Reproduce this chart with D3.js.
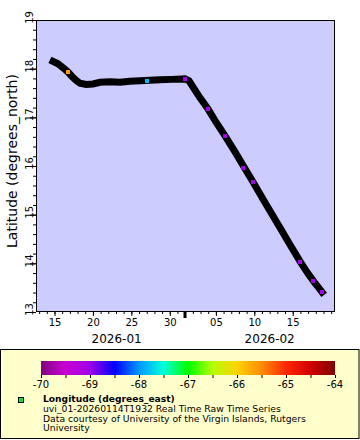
<!DOCTYPE html>
<html><head><meta charset="utf-8">
<script src="https://cdn.jsdelivr.net/npm/d3@7"></script>
<style>body{margin:0;background:#fff}svg{display:block;font-family:"DejaVu Sans",sans-serif}</style>
</head><body><svg id="c" width="360" height="440"></svg>
<script>
// ---- data ----
const trackTimes = ["2026-01-14T19:32","2026-01-15T11:00","2026-01-16T02:30","2026-01-16T18:10","2026-01-17T06:40",
  "2026-01-17T19:10","2026-01-18T07:40","2026-01-19T02:25","2026-01-20T00:15","2026-01-20T22:05",
  "2026-01-22T05:20","2026-01-23T12:30","2026-01-24T19:50","2026-01-26T03:00","2026-01-27T10:20",
  "2026-01-28T17:30","2026-01-30T07:00","2026-01-31T23:35","2026-02-01T12:00","2026-02-02T22:20",
  "2026-02-03T23:30","2026-02-05T00:30","2026-02-06T04:35","2026-02-07T11:45","2026-02-08T15:50",
  "2026-02-09T20:00","2026-02-11T09:20","2026-02-13T08:20","2026-02-14T15:35","2026-02-15T22:50",
  "2026-02-16T23:45","2026-02-17T18:30","2026-02-18T10:05","2026-02-18T19:25"];
const trackLats = [18.15,18.10,18.02,17.93,17.84,17.76,17.70,17.675,17.685,17.72,
  17.73,17.72,17.74,17.75,17.76,17.77,17.78,17.79,17.75,17.40,
  17.17,16.90,16.62,16.29,15.98,15.67,15.25,14.73,14.38,14.04,
  13.79,13.62,13.49,13.41];
const markerTimes = ["2026-01-16T17:15","2026-01-27T01:00","2026-01-31T23:35","2026-02-03T23:30","2026-02-06T04:35",
  "2026-02-08T13:40","2026-02-09T20:00","2026-02-15T22:50","2026-02-17T15:20","2026-02-18T19:25"];
const markerLats = [17.93,17.75,17.79,17.18,16.62,15.96,15.68,14.03,13.64,13.42];
const markerLons = [-65.58,-67.85,-69.05,-69.05,-69.05,-69.05,-69.05,-69.05,-69.05,-69.05];
const latTicks = [13,14,15,16,17,18,19];
const dayTicks = ["2026-01-15","2026-01-20","2026-01-25","2026-01-30","2026-02-05","2026-02-10","2026-02-15"];
const monthStarts = ["2026-02-01"];
const monthLabels = ["2026-01","2026-02"];
const monthLabelTimes = ["2026-01-23T02:00","2026-02-12T00:00"];
const colorTicks = [-70,-69,-68,-67,-66,-65,-64];
const paletteStops = [-70,-69.5,-69,-68.5,-68,-67.5,-67,-66.5,-66,-65.5,-65,-64.5,-64];
const paletteColors = ["#800080","#c800d2","#a000e6","#0000ff","#0096ff","#00ffdc","#00ff00",
  "#b4ff00","#ffd200","#ff8c00","#ff2800","#d20000","#800000"];
const legendTitle = "Longitude (degrees_east)";
const legendLines = ["uvi_01-20260114T1932 Real Time Raw Time Series",
  "Data courtesy of University of the Virgin Islands, Rutgers","University"];
const yTitle = "Latitude (degrees_north)";

// ---- layout ----
const svg = d3.select("#c");
const L = 36, R = 335, T = 20, B = 312;
const P = s => new Date(s + (s.length > 10 ? ":00Z" : "T00:00:00Z"));
const x = d3.scaleUtc().domain([P("2026-01-12T14:12"), P("2026-02-20T12:00")]).range([L, R]);
const y = d3.scaleLinear().domain([13, 19]).range([B, T]);
const color = d3.scaleLinear().domain(paletteStops).range(paletteColors).clamp(true);

svg.append("rect").attr("x", L).attr("y", T).attr("width", R - L).attr("height", B - T).attr("fill", "#ccccff");

// track
const line = d3.line().x((d, i) => x(P(trackTimes[i]))).y((d, i) => y(trackLats[i]));
svg.append("path").attr("d", line(trackLats)).attr("fill", "none").attr("stroke", "#000")
  .attr("stroke-width", 7).attr("stroke-linecap", "square").attr("stroke-linejoin", "miter");
// colored markers
svg.append("g").selectAll("rect").data(markerLats).join("rect")
  .attr("x", (d, i) => Math.round(x(P(markerTimes[i]))) - 2)
  .attr("y", d => Math.round(y(d)) - 2)
  .attr("width", 4).attr("height", 4)
  .attr("fill", (d, i) => color(markerLons[i]));

// frame
svg.append("rect").attr("x", L + 0.5).attr("y", T + 0.5).attr("width", R - L - 1).attr("height", B - T - 1)
  .attr("fill", "none").attr("stroke", "#000").attr("stroke-width", 1);

// x axis minor ticks (daily)
const gxm = svg.append("g").attr("transform", `translate(0,${B})`)
  .call(d3.axisBottom(x).ticks(d3.utcDay.every(1)).tickSize(2).tickFormat(""));
gxm.select(".domain").remove();
const gx = svg.append("g").attr("transform", `translate(0,${B})`)
  .call(d3.axisBottom(x).tickValues(dayTicks.map(P)).tickSize(4).tickPadding(3).tickFormat(d3.utcFormat("%d")));
gx.select(".domain").remove();
gx.selectAll("text").attr("font-size", 10).attr("font-family", "DejaVu Sans").attr("fill", "#000");
svg.append("g").selectAll("rect").data(monthStarts).join("rect")
  .attr("x", d => Math.round(x(P(d))) - 1.5).attr("y", B).attr("width", 3).attr("height", 6).attr("fill", "#000");
svg.append("g").selectAll("text").data(monthLabels).join("text")
  .attr("x", (d, i) => x(P(monthLabelTimes[i]))).attr("y", 343)
  .attr("text-anchor", "middle").attr("font-size", 12).text(d => d);

// y axis
const minorLat = d3.range(13, 19.001, 0.2);
const gym = svg.append("g").attr("transform", `translate(${L},0)`)
  .call(d3.axisLeft(y).tickValues(minorLat).tickSize(3).tickFormat(""));
gym.select(".domain").remove();
const gy = svg.append("g").attr("transform", `translate(${L},0)`)
  .call(d3.axisLeft(y).tickValues(latTicks).tickSize(6).tickFormat(d3.format("d")));
gy.select(".domain").remove();
gy.selectAll(".tick text").attr("font-size", 10).attr("font-family", "DejaVu Sans").attr("fill", "#000")
  .attr("text-anchor", "middle").attr("dy", null).attr("x", null).attr("y", 0)
  .attr("transform", "translate(-3,-3) rotate(-90)");
svg.append("text").attr("transform", "translate(17,161) rotate(-90)").attr("text-anchor", "middle")
  .attr("font-size", 14).text(yTitle);

// legend
svg.append("rect").attr("x", 0.5).attr("y", 349.5).attr("width", 358.5).attr("height", 89)
  .attr("fill", "#ffffcc").attr("stroke", "#000");
const cx = d3.scaleLinear().domain([-70, -64]).range([41, 335]);
const grad = svg.append("defs").append("linearGradient").attr("id", "pal");
grad.selectAll("stop").data(paletteStops).join("stop")
  .attr("offset", d => (cx(d) - 41) / (335 - 41)).attr("stop-color", (d, i) => paletteColors[i]);
svg.append("rect").attr("x", 41).attr("y", 361).attr("width", 294).attr("height", 14).attr("fill", "url(#pal)");
const gc = svg.append("g").attr("transform", "translate(0,375)")
  .call(d3.axisBottom(cx).tickValues(d3.range(-70, -63.99, 0.5)).tickSize(3).tickFormat(""));
gc.select(".domain").remove();
svg.append("g").selectAll("text").data(colorTicks).join("text")
  .attr("x", d => cx(d)).attr("y", 388).attr("text-anchor", "middle").attr("font-size", 10).text(d => d3.format("d")(d).replace("−", "-"));
svg.append("rect").attr("x", 18.5).attr("y", 397.5).attr("width", 5).attr("height", 5)
  .attr("fill", "#22dd22").attr("stroke", "#000");
const lg = svg.append("g").attr("transform", "translate(43,0) scale(1.13,1)");
lg.append("text").attr("x", 0).attr("y", 402.5).attr("font-size", 8.1).attr("font-weight", "bold").text(legendTitle);
lg.append("g").selectAll("text").data(legendLines).join("text")
  .attr("x", 0).attr("y", (d, i) => 412 + i * 9.6).attr("font-size", 8.2).text(d => d);
</script></body></html>
